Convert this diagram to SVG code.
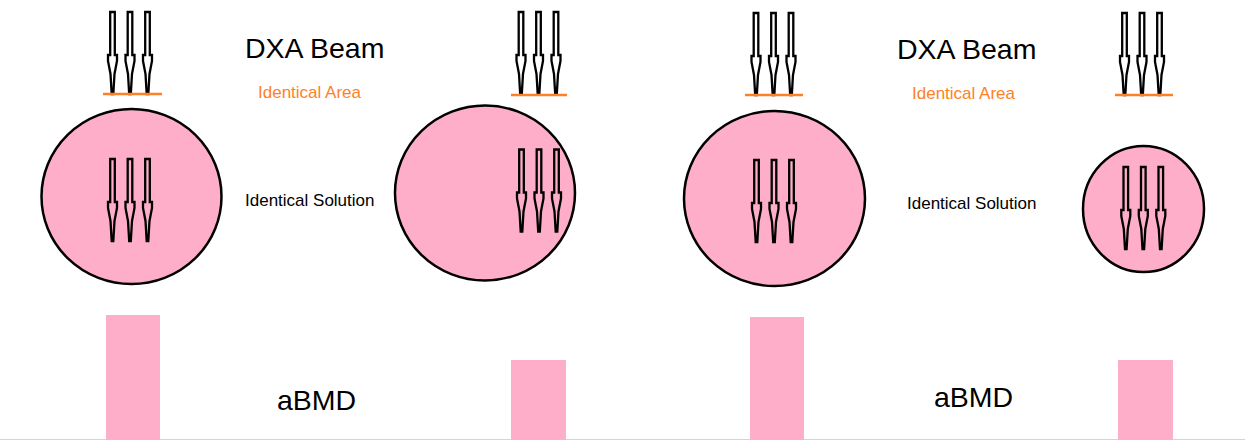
<svg xmlns="http://www.w3.org/2000/svg" xmlns:xlink="http://www.w3.org/1999/xlink" width="1245" height="440" viewBox="0 0 1245 440">
<style>
.bg{fill:#ffffff}
.disc{fill:#FFAEC9;stroke:#000;stroke-width:2.5}
.bar{fill:#FFAEC9}
.area{stroke:#FF7F27;stroke-width:2.5}
.arr{fill:none;stroke:#000;stroke-width:2.3;stroke-linejoin:miter}
.big{font-family:"Liberation Sans",Arial,sans-serif;font-size:28.5px;fill:#000}
.small{font-family:"Liberation Sans",Arial,sans-serif;font-size:17px;fill:#000}
.orange{fill:#FF7F27}
</style>
<defs>
<path id="arrow" class="arr" d="M-2.3,0 L2.3,0 L2.3,43 L4.5,43 L4.5,49 L2,62 L0.8,82 L-0.8,82 L-2,62 L-4.5,49 L-4.5,43 L-2.3,43 Z"/>
<g id="tri"><use xlink:href="#arrow" x="-17.5"/><use xlink:href="#arrow" x="0"/><use xlink:href="#arrow" x="17.5"/></g>
</defs>
<rect class="bg" x="0" y="0" width="1245" height="440"/>
<line x1="0" y1="439.5" x2="1245" y2="439.5" stroke="#d4d4d4" stroke-width="1"/>

<g id="case1">
<g id="beam1"><use xlink:href="#tri" x="130" y="12"/><line class="area" x1="103" y1="94" x2="162" y2="94"/></g>
<g id="disc1"><ellipse class="disc" cx="131.5" cy="196.5" rx="90" ry="87.5"/><use xlink:href="#tri" x="130" y="159"/></g>
<g id="bar1"><rect class="bar" x="106" y="315" width="54" height="125"/></g>
</g>

<g id="case2">
<g id="beam2"><use xlink:href="#tri" x="538.5" y="12"/><line class="area" x1="511" y1="95" x2="567" y2="95"/></g>
<g id="disc2"><ellipse class="disc" cx="485" cy="193" rx="90" ry="87.5"/><use xlink:href="#tri" x="539" y="149.5"/></g>
<g id="bar2"><rect class="bar" x="511" y="360" width="55" height="80"/></g>
</g>

<g id="case3">
<g id="beam3"><use xlink:href="#tri" x="773.5" y="13"/><line class="area" x1="745" y1="95" x2="803" y2="95"/></g>
<g id="disc3"><ellipse class="disc" cx="774.5" cy="198.5" rx="90.5" ry="87.5"/><use xlink:href="#tri" x="774" y="160"/></g>
<g id="bar3"><rect class="bar" x="750" y="317" width="54" height="123"/></g>
</g>

<g id="case4">
<g id="beam4"><use xlink:href="#tri" x="1142" y="13"/><line class="area" x1="1115" y1="95" x2="1173" y2="95"/></g>
<g id="disc4"><ellipse class="disc" cx="1143.5" cy="209" rx="60.5" ry="63"/><use xlink:href="#tri" x="1143.3" y="167"/></g>
<g id="bar4"><rect class="bar" x="1118" y="360" width="55" height="80"/></g>
</g>

<g id="labels">
<text class="big" x="245" y="58">DXA Beam</text>
<text class="small orange" x="258" y="98">Identical Area</text>
<text class="small" x="245" y="206">Identical Solution</text>
<text class="big" x="277" y="410">aBMD</text>
<text class="big" x="897" y="59">DXA Beam</text>
<text class="small orange" x="912" y="99">Identical Area</text>
<text class="small" x="907" y="209">Identical Solution</text>
<text class="big" x="934" y="407">aBMD</text>
</g>

<g id="connectors"></g>
</svg>
